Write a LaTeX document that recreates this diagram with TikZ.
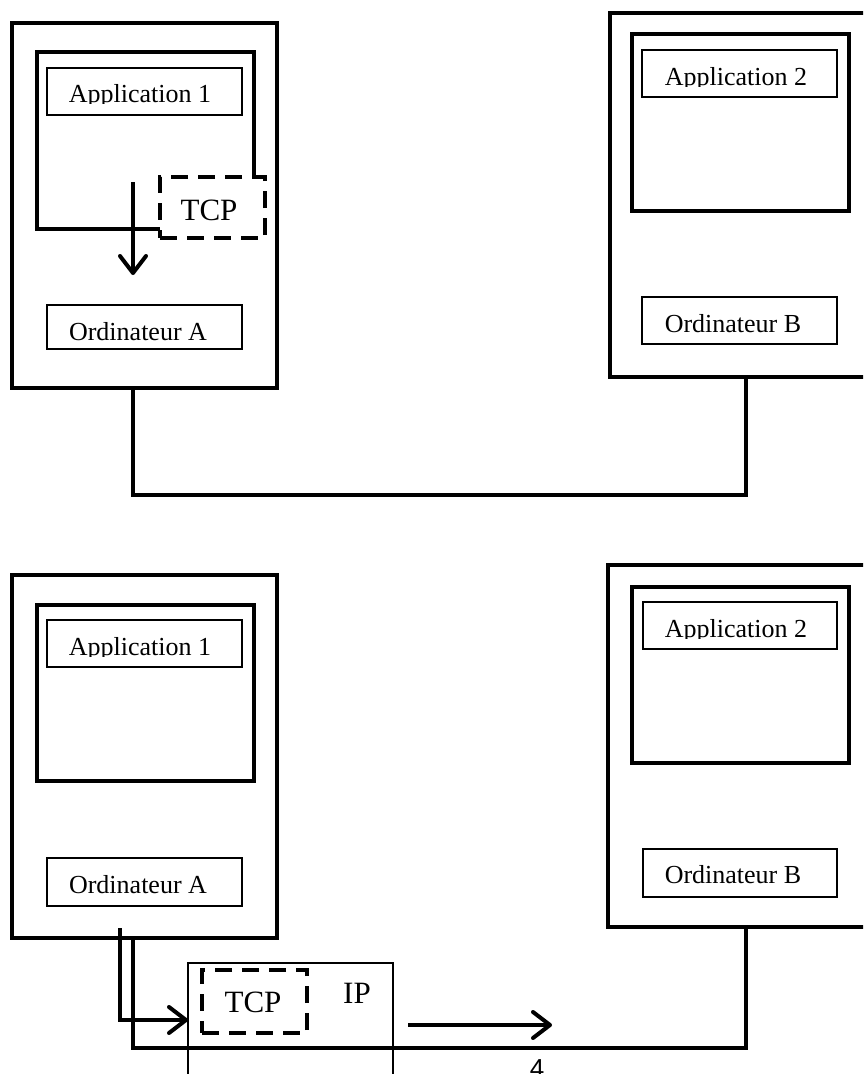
\documentclass[tikz,border=0pt]{standalone}
\usepackage{fontspec}
\setmainfont{Liberation Serif}
\newfontfamily\arialfont{Liberation Sans}
\usetikzlibrary{arrows.meta}
\tikzset{
  framebox/.style={draw, line width=4pt, line join=miter, rectangle, inner sep=0pt, outer sep=0pt, anchor=north west},
  thinbox/.style={draw, line width=1.2pt, rectangle, inner sep=0pt, outer sep=0pt, anchor=north west},
  dashbox/.style={draw, line width=4pt, dash pattern=on 17pt off 10pt, rectangle, inner sep=0pt, outer sep=0pt, anchor=north west},
  txt/.style={font=\fontsize{26}{30}\selectfont, anchor=base, inner sep=0pt},
  bigtxt/.style={font=\fontsize{31}{36}\selectfont, anchor=base, inner sep=0pt},
  wire/.style={line width=4pt, line join=miter},
  flow/.style={line width=4pt, line join=miter, -{Straight Barb[length=17pt,width=26pt,round]}},
}
\begin{document}
\begin{tikzpicture}[x=1pt,y=-1pt]
\clip (0,0) rectangle (863,1074);
\fill[white] (0,0) rectangle (863,1074);

% ===================== TOP =====================
\node[framebox, minimum width=265, minimum height=365] (compA) at (12,23) {};
\draw[wire] (160,229) -- (37,229) -- (37,52) -- (254,52) -- (254,177);
\node[thinbox, minimum width=195, minimum height=47] (app1) at (47,68) {};
\begin{scope}
\clip (48,69) rectangle (241,103);
\node[txt] (app1t) at (140,102) {Application 1};
\end{scope}
\node[dashbox, minimum width=105, minimum height=61] (tcp1) at (160,177) {};
\node[bigtxt] (tcp1t) at (209,220) {TCP};
\node[thinbox, minimum width=195, minimum height=44] (ordA) at (47,305) {};
\node[txt] (ordAt) at (138,340) {Ordinateur A};
\coordinate (arrS) at (133,182);
\coordinate (arrE) at (133,275);
\draw[flow] (arrS) -- (arrE);

\node[framebox, minimum width=258, minimum height=364] (compB) at (610,13) {};
\node[framebox, minimum width=217, minimum height=177] (appB) at (632,34) {};
\node[thinbox, minimum width=195, minimum height=47] (app2) at (642,50) {};
\begin{scope}
\clip (643,51) rectangle (836,86);
\node[txt] (app2t) at (736,85) {Application 2};
\end{scope}
\node[thinbox, minimum width=195, minimum height=47] (ordB) at (642,297) {};
\node[txt] (ordBt) at (733,332) {Ordinateur B};

\coordinate (aw1) at (133,388);
\coordinate (bot1) at (133,495);
\coordinate (bw1) at (746,377);
\draw[wire] (aw1) -- (bot1) -| (bw1);

% ===================== BOTTOM =====================
\node[framebox, minimum width=265, minimum height=363] (compA2) at (12,575) {};
\node[framebox, minimum width=217, minimum height=176] (appA2) at (37,605) {};
\node[thinbox, minimum width=195, minimum height=47] (app1b) at (47,620) {};
\begin{scope}
\clip (48,621) rectangle (241,656);
\node[txt] (app1bt) at (140,655) {Application 1};
\end{scope}
\node[thinbox, minimum width=195, minimum height=48] (ordA2) at (47,858) {};
\node[txt] (ordA2t) at (138,893) {Ordinateur A};

\node[framebox, minimum width=260, minimum height=362] (compB2) at (608,565) {};
\node[framebox, minimum width=217, minimum height=176] (appB2) at (632,587) {};
\node[thinbox, minimum width=194, minimum height=47] (app2b) at (643,602) {};
\begin{scope}
\clip (644,603) rectangle (836,638);
\node[txt] (app2bt) at (736,637) {Application 2};
\end{scope}
\node[thinbox, minimum width=194, minimum height=48] (ordB2) at (643,849) {};
\node[txt] (ordB2t) at (733,883) {Ordinateur B};

\node[thinbox, line width=1.5pt, minimum width=205, minimum height=130] (ip) at (188,963) {};
\node[bigtxt] (ipt) at (357,1003) {IP};
\node[dashbox, minimum width=105, minimum height=63] (tcp2) at (202,970) {};
\node[bigtxt] (tcp2t) at (253,1012) {TCP};

\coordinate (a2tx) at (120,928);
\coordinate (ipin) at (188,1020);
\draw[flow] (a2tx) |- (ipin);

\coordinate (aw2) at (133,938);
\coordinate (bot2) at (133,1048);
\coordinate (bw2) at (746,927);
\draw[wire] (aw2) -- (bot2) -| (bw2);

\coordinate (sendS) at (408,1025);
\coordinate (sendE) at (552,1025);
\draw[flow] (sendS) -- (sendE);

\node[font=\arialfont\fontsize{26}{30}\selectfont, anchor=base, inner sep=0pt] (four) at (537,1077) {4};
\end{tikzpicture}
\end{document}
